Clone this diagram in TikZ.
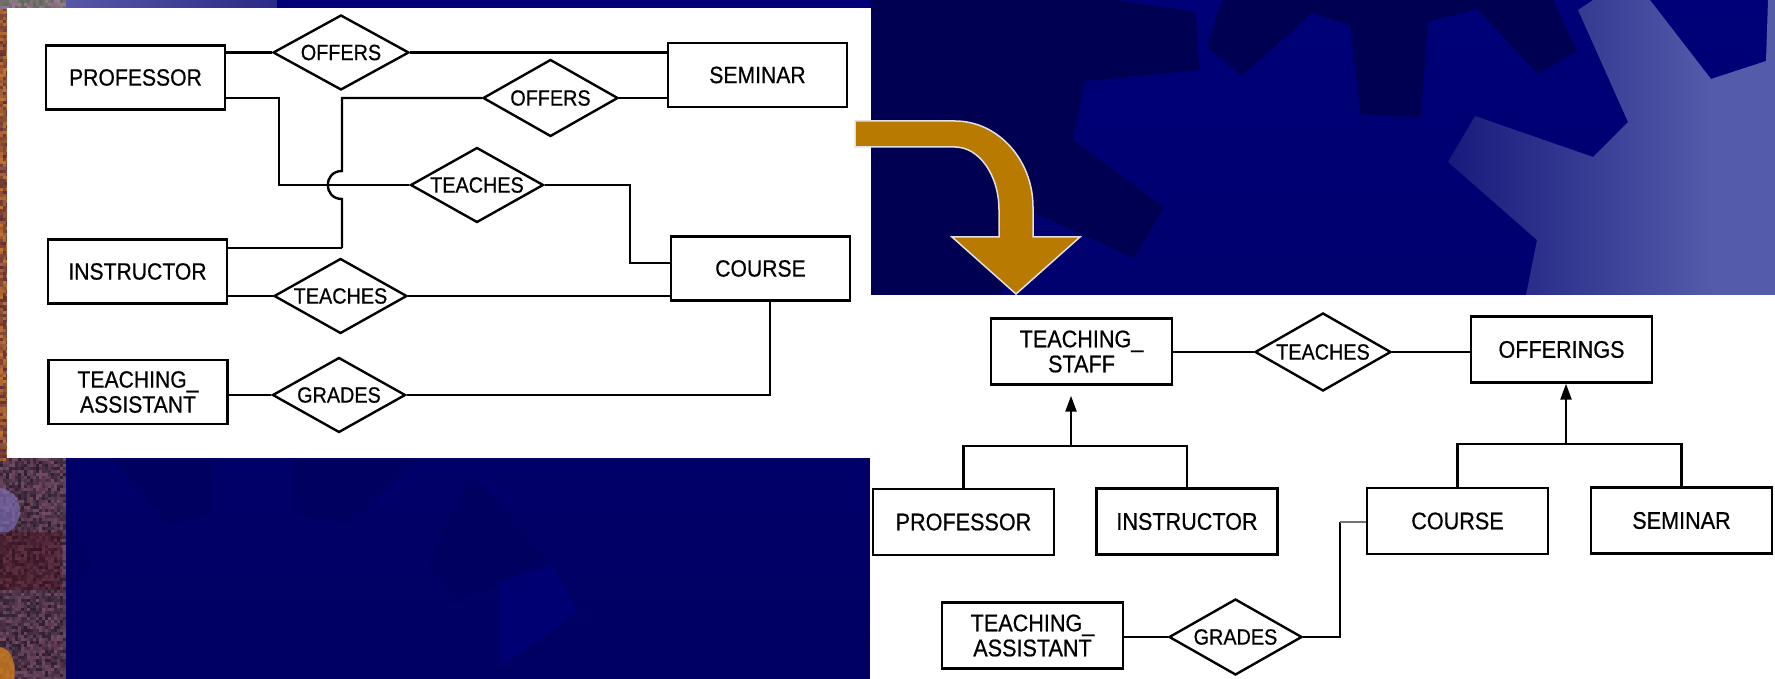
\documentclass[tikz,border=0pt]{standalone}
\usepackage{fontspec}
\setmainfont{Liberation Sans}
\newfontfamily\erfamily[FakeStretch=0.9,FakeBold=0.6]{Liberation Sans}
\newcommand\erL{\erfamily\fontsize{23.5}{25}\selectfont}
\newcommand\erR{\erfamily\fontsize{24}{25}\selectfont}
\newcommand\erD{\erfamily\fontsize{22}{24}\selectfont}
\usetikzlibrary{shapes.geometric,arrows.meta}
\definecolor{navytop}{RGB}{0,0,120}
\definecolor{navybot}{RGB}{0,0,98}
\definecolor{navydark}{RGB}{0,0,82}
\definecolor{navysub}{RGB}{0,0,97}
\definecolor{navylite}{RGB}{0,0,114}
\definecolor{gearlo}{RGB}{22,24,122}
\definecolor{gearhi}{RGB}{84,92,170}
\definecolor{topglo}{RGB}{88,88,168}
\definecolor{topghi}{RGB}{42,42,136}
\definecolor{texhi}{RGB}{115,75,100}
\definecolor{texlo}{RGB}{45,30,45}
\definecolor{edgehi}{RGB}{195,115,50}
\definecolor{edgelo}{RGB}{95,45,55}
\definecolor{cornhi}{RGB}{160,120,150}
\definecolor{cornlo}{RGB}{90,105,85}
\definecolor{lavblob}{RGB}{125,115,190}
\definecolor{maroonblob}{RGB}{70,10,20}
\definecolor{orangeblob}{RGB}{215,130,25}
\definecolor{arrowfill}{RGB}{184,122,0}
\definecolor{arrowedge}{RGB}{225,225,225}
\begin{document}
\begin{tikzpicture}[x=1pt,y=-1pt,
  ent/.style={draw=black,line width=2.4pt,fill=white,rectangle,inner sep=0pt,align=center},
  lbox/.style={ent,font=\erL,minimum width=179pt,minimum height=64pt},
  rbox/.style={ent,font=\erR,minimum width=181pt,minimum height=66pt},
  rel/.style={draw=black,line width=2.4pt,fill=white,diamond,aspect=1.8,inner sep=0pt,font=\erD},
  lrel/.style={rel,minimum width=133pt,minimum height=75pt},
  rrel/.style={rel,minimum width=135pt,minimum height=77pt},
  conn/.style={line width=2.4pt,black},
  isa/.style={conn,-{Triangle[length=16pt,width=11pt]}},
]
\useasboundingbox (0,0) rectangle (1775,679);

% ---------- slide background ----------
\shade[top color=navytop,bottom color=navybot] (0,0) rectangle (1775,679);

% dark gear teeth, upper right
\fill[navydark] (871,0) -- (1117,0) -- (1196,12) -- (1199,70) -- (1085,81) -- (1073,140)
  -- (1164,207) -- (1134,258) -- (1035,213) -- (1000,295) -- (871,295) -- cycle;
\fill[navydark] (1222,0) -- (1207,47) -- (1242,76) -- (1312,13) -- (1350,25) -- (1361,115)
  -- (1421,117) -- (1428,22) -- (1477,9) -- (1538,74) -- (1577,51) -- (1553,0) -- cycle;

% light gear, upper right
\begin{scope}
  \clip (1578,10) -- (1593,0) -- (1650,0) -- (1711,79) -- (1766,61) -- (1768,0) -- (1775,0)
    -- (1775,295) -- (1526,295) -- (1537,240) -- (1448,162) -- (1475,116) -- (1593,157)
    -- (1628,122) -- cycle;
  \shade[left color=gearlo,right color=gearhi] (1440,0) rectangle (1715,295);
  \fill[gearhi] (1715,0) rectangle (1775,295);
\end{scope}

% faint gear teeth, lower left
\fill[navysub] (115,458) -- (212,458) -- (211,513) -- (167,527) -- cycle;
\fill[navysub] (293,458) -- (413,458) -- (347,525) -- (293,513) -- cycle;
\fill[navysub] (65,508) -- (93,565) -- (65,592) -- cycle;
\fill[navysub] (470,475) -- (427,568) -- (457,600) -- (552,564) -- cycle;
\fill[navylite] (500,582) -- (552,564) -- (578,612) -- (500,668) -- cycle;

% top band
\shade[left color=topglo,right color=topghi] (65,0) rectangle (277,8);

% photo strip on the left edge
\pgfmathsetseed{42}
\foreach \i in {0,...,21}{
  \foreach \j in {0,...,73}{
    \pgfmathsetmacro{\p}{int(100*rnd)}
    \fill[texhi!\p!texlo] (3*\i,458+3*\j) rectangle ++(3,3);
  }
}
\foreach \i in {0,...,2}{
  \foreach \j in {0,...,150}{
    \pgfmathsetmacro{\p}{int(100*rnd)}
    \fill[edgehi!\p!edgelo] (3*\i,8+3*\j) rectangle ++(3,3);
  }
}
\foreach \i in {0,...,21}{
  \foreach \j in {0,...,2}{
    \pgfmathsetmacro{\p}{int(100*rnd)}
    \fill[cornhi!\p!cornlo] (3*\i,3*\j) rectangle ++(3,3);
  }
}
\fill[lavblob,opacity=.6] (0,488) .. controls (25,490) and (28,530) .. (0,535) -- cycle;
\fill[maroonblob,opacity=.4] (0,532) rectangle (62,590);
\fill[orangeblob,opacity=.75] (0,647) .. controls (14,650) and (16,668) .. (14,679) -- (0,679) -- cycle;

% white panels
\fill[white] (7,8) rectangle (871,458);
\fill[white] (870,295) rectangle (1775,679);

% bent transition arrow
\filldraw[fill=arrowfill,draw=arrowedge,line width=1.5pt]
  (855,121) -- (955,121) .. controls (998,121) and (1033,160) .. (1033,207)
  -- (1033,237) -- (1080,237) -- (1016,294) -- (952,237) -- (999,237) -- (999,210)
  .. controls (999,175) and (979,147) .. (955,147) -- (855,147) -- cycle;

% ---------- ER diagram before generalization ----------
\node[lbox] (lprof)   at (135.5,77.5) {PROFESSOR};
\node[lbox] (lsem)    at (757.5,75)   {SEMINAR};
\node[lbox] (linst)   at (137.5,271.5){INSTRUCTOR};
\node[lbox] (lcourse) at (760.5,268.5){COURSE};
\node[lbox] (lta)     at (138,392)    {TEACHING\_\\ASSISTANT};
\node[lrel,minimum width=136pt] (loff1) at (341,52.5) {OFFERS};
\node[lrel,minimum width=135pt,minimum height=77pt] (loff2) at (550.5,98) {OFFERS};
\node[lrel] (lteach1) at (477,185)   {TEACHES};
\node[lrel] (lteach2) at (340.5,296) {TEACHES};
\node[lrel] (lgrades) at (339,395)   {GRADES};

\coordinate (hopA) at (342,171);
\coordinate (hopB) at (342,199);
\coordinate (instJ) at (342,248);
\coordinate (profJ) at (279,98);
\coordinate (courseJ) at (630,263);
\coordinate (gradeJ) at (770,300);

\draw[conn] (lprof.east |- loff1.west) -- (loff1.west);
\draw[conn] (loff1.east) -- (loff1.east -| lsem.west);
\draw[conn] (loff2.east) -- (loff2.east -| lsem.west);
\draw[conn] (loff2.west) -- (loff2.west -| hopA) -- (hopA)
  .. controls (323,171) and (323,199) .. (hopB) -- (instJ);
\draw[conn,line width=1.7pt] (instJ) -- (instJ -| linst.east);
\draw[conn] (profJ -| lprof.east) -- (profJ) -- (profJ |- lteach1.west) -- (lteach1.west);
\draw[conn] (lteach1.east) -- (lteach1.east -| courseJ) -- (courseJ) -- (courseJ -| lcourse.west);
\draw[conn,line width=1.7pt] (lteach2.west -| linst.east) -- (lteach2.west);
\draw[conn] (lteach2.east) -- (lteach2.east -| lcourse.west);
\draw[conn] (lgrades.west -| lta.east) -- (lgrades.west);
\draw[conn] (lgrades.east) -- (lgrades.east -| gradeJ) -- (gradeJ |- lcourse.south);

% ---------- ER diagram after generalization ----------
\node[rbox] (rstaff)  at (1081.5,351.5) {TEACHING\_\\STAFF};
\node[rbox] (roffer)  at (1561.5,349.5) {OFFERINGS};
\node[rbox] (rprof)   at (963.5,522)    {PROFESSOR};
\node[rbox] (rinst)   at (1187,521.5)   {INSTRUCTOR};
\node[rbox] (rcourse) at (1457.5,521)   {COURSE};
\node[rbox] (rsem)    at (1681.5,520.5) {SEMINAR};
\node[rbox] (rta)     at (1032.5,635.5) {TEACHING\_\\ASSISTANT};
\node[rrel,minimum width=136pt,minimum height=78pt] (rteach) at (1323,352) {TEACHES};
\node[rrel,minimum width=133pt,minimum height=76pt] (rgrades) at (1235.5,637) {GRADES};

\coordinate (staffJ) at (1071,446);
\coordinate (offerJ) at (1566,444);
\coordinate (courseK) at (1340,522);

\draw[conn] (rteach.west -| rstaff.east) -- (rteach.west);
\draw[conn] (rteach.east) -- (rteach.east -| roffer.west);
\draw[conn] (rprof.north) |- (staffJ) -| (rinst.north);
\draw[isa,shorten >=10pt] (staffJ) -- (staffJ |- rstaff.south);
\draw[conn] (rcourse.north) |- (offerJ) -| (rsem.north);
\draw[isa] (offerJ) -- (offerJ |- roffer.south);
\draw[conn] (rgrades.west -| rta.east) -- (rgrades.west);
\draw[conn] (rgrades.east) -- (rgrades.east -| courseK) -- (courseK);
\draw[conn,draw=black!55,line width=1.7pt] (courseK) -- (courseK -| rcourse.west);
\end{tikzpicture}
\end{document}
